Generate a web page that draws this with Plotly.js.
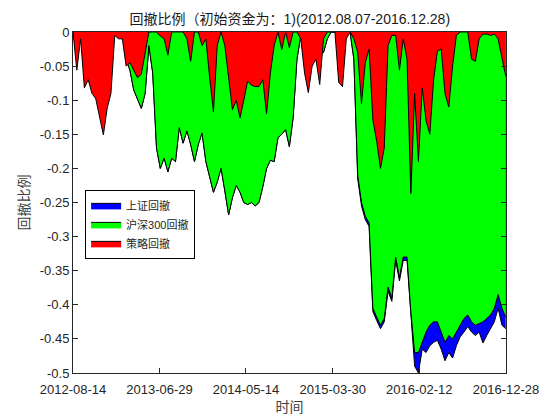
<!DOCTYPE html>
<html>
<head>
<meta charset="utf-8">
<script src="https://cdn.plot.ly/plotly-3.0.1.min.js"></script>
<style>html,body{margin:0;padding:0;background:#fff;}#chart{width:560px;height:420px;}</style>
</head>
<body>
<div id="chart"></div>
<script>
// sampling dates: every 14 days from the first axis date
const startDate = '2012-08-14';
const stepDays = 14;
const nPoints = 115;

const xTickVals = ['2012-08-14','2013-06-29','2014-05-14','2015-03-30','2016-02-12','2016-12-28'];
const xTickText = ['2012-08-14','2013-06-29','2014-05-14','2015-03-30','2016-02-12','2016-12-28'];
const yTickVals = [0,-0.05,-0.1,-0.15,-0.2,-0.25,-0.3,-0.35,-0.4,-0.45,-0.5];
const yTickText = ['0','-0.05','-0.1','-0.15','-0.2','-0.25','-0.3','-0.35','-0.4','-0.45','-0.5'];

// 策略回撤 (strategy drawdown)
const strategy = [
 0,-0.056,-0.01,-0.082,-0.07,-0.09,-0.098,-0.126,-0.151,-0.112,
 -0.09,-0.005,-0.01,-0.01,-0.05,-0.045,-0.055,-0.067,-0.062,-0.028,
 0,0,0,-0.006,-0.01,-0.034,0,0,0,0,
 -0.01,-0.043,0,0,-0.02,-0.01,-0.067,-0.117,-0.02,0,
 -0.02,-0.07,-0.114,-0.1,-0.126,-0.1,-0.072,-0.078,-0.08,-0.08,
 -0.07,-0.12,-0.06,-0.02,0,-0.026,0,-0.023,0,0,
 -0.01,-0.06,-0.089,-0.05,-0.04,-0.077,-0.01,0,0,0,
 -0.074,-0.08,-0.01,0,-0.01,-0.03,-0.105,-0.045,-0.025,-0.129,
 -0.16,-0.2,-0.17,-0.02,-0.005,-0.005,-0.056,-0.01,-0.04,-0.237,
 -0.09,-0.19,-0.082,-0.13,-0.15,-0.07,-0.028,-0.025,-0.09,-0.11,
 -0.05,-0.005,0,0,0,-0.04,-0.043,-0.01,-0.003,-0.003,
 -0.005,-0.003,-0.01,-0.038,-0.065
];

// 沪深300回撤 (CSI 300 drawdown)
const csi300 = [
 0,-0.02,0,-0.03,-0.03,-0.04,-0.04,-0.05,-0.05,-0.05,
 -0.04,0,0,0,-0.04,-0.056,-0.085,-0.1,-0.112,-0.09,
 -0.02,-0.06,-0.17,-0.2,-0.185,-0.205,-0.185,-0.19,-0.14,-0.163,
 -0.145,-0.165,-0.19,-0.165,-0.148,-0.19,-0.212,-0.235,-0.22,-0.2,
 -0.233,-0.268,-0.243,-0.225,-0.235,-0.25,-0.253,-0.25,-0.255,-0.25,
 -0.227,-0.2,-0.188,-0.19,-0.155,-0.15,-0.143,-0.168,-0.125,-0.04,
 -0.005,-0.02,-0.02,-0.02,-0.02,-0.03,-0.03,-0.01,0,0,
 0,0,0,0,-0.04,-0.21,-0.25,-0.27,-0.28,-0.405,
 -0.418,-0.43,-0.42,-0.374,-0.39,-0.33,-0.36,-0.33,-0.33,-0.41,
 -0.47,-0.47,-0.455,-0.44,-0.43,-0.425,-0.425,-0.44,-0.455,-0.445,
 -0.45,-0.44,-0.43,-0.42,-0.415,-0.425,-0.43,-0.428,-0.425,-0.42,
 -0.415,-0.405,-0.385,-0.405,-0.418
];

// 上证回撤 (Shanghai Composite drawdown)
const shanghai = [
 0,-0.02,0,-0.03,-0.03,-0.04,-0.04,-0.05,-0.05,-0.05,
 -0.04,0,0,0,-0.04,-0.056,-0.085,-0.1,-0.112,-0.09,
 -0.02,-0.06,-0.17,-0.2,-0.185,-0.205,-0.185,-0.19,-0.14,-0.163,
 -0.145,-0.165,-0.19,-0.165,-0.148,-0.19,-0.212,-0.235,-0.22,-0.2,
 -0.233,-0.268,-0.243,-0.225,-0.235,-0.25,-0.253,-0.25,-0.255,-0.25,
 -0.227,-0.2,-0.188,-0.19,-0.155,-0.15,-0.143,-0.168,-0.125,-0.04,
 -0.005,-0.02,-0.02,-0.02,-0.02,-0.03,-0.03,-0.01,0,0,
 0,0,0,0,-0.04,-0.215,-0.255,-0.275,-0.285,-0.41,
 -0.423,-0.435,-0.425,-0.38,-0.395,-0.335,-0.365,-0.335,-0.335,-0.415,
 -0.49,-0.5,-0.465,-0.47,-0.46,-0.455,-0.452,-0.465,-0.482,-0.47,
 -0.478,-0.46,-0.447,-0.44,-0.432,-0.44,-0.445,-0.44,-0.456,-0.445,
 -0.435,-0.425,-0.405,-0.43,-0.435
];

const seriesNames = ['上证回撤','沪深300回撤','策略回撤'];
const seriesColors = ['#0000FF','#00FF00','#FF0000'];

function buildDates(start, step, n) {
  const out = [];
  const d0 = new Date(start + 'T00:00:00Z');
  for (let i = 0; i < n; i++) {
    const d = new Date(d0.getTime() + i * step * 86400000);
    out.push(d.toISOString().slice(0, 10));
  }
  return out;
}
const dates = buildDates(startDate, stepDays, nPoints);

const seriesValues = [shanghai, csi300, strategy];
const traces = seriesValues.map((vals, k) => ({
  type: 'scatter',
  mode: 'lines',
  x: dates,
  y: vals,
  name: seriesNames[k],
  fill: 'tozeroy',
  fillcolor: seriesColors[k],
  line: {color: '#000000', width: 1}
}));

const tickFont = {family: '"Liberation Sans", Arial, sans-serif', size: 13, color: '#262626'};
const cjk = '"Liberation Sans", "Noto Sans CJK SC", sans-serif';

const layout = {
  width: 560, height: 420,
  margin: {l: 73, r: 54, t: 32, b: 47},
  paper_bgcolor: '#ffffff',
  plot_bgcolor: '#ffffff',
  showlegend: true,
  title: {
    text: '回撤比例（初始资金为：1)(2012.08.07-2016.12.28)',
    font: {family: cjk, size: 14, color: '#1a1a1a'},
    x: 0.5175, xanchor: 'center', y: 0.955, yanchor: 'middle'
  },
  xaxis: {
    type: 'date',
    range: ['2012-08-14', '2016-12-28'],
    tickmode: 'array', tickvals: xTickVals, ticktext: xTickText,
    ticks: 'inside', ticklen: 5, tickcolor: '#262626',
    ticklabelstandoff: 4,
    showline: true, linecolor: '#262626', linewidth: 1, mirror: true,
    showgrid: false, zeroline: false,
    tickfont: tickFont,
    title: {text: '时间', font: {family: cjk, size: 14, color: '#404040'}, standoff: 6}
  },
  yaxis: {
    range: [-0.5, 0],
    tickmode: 'array', tickvals: yTickVals, ticktext: yTickText,
    ticks: 'inside', ticklen: 5, tickcolor: '#262626',
    showline: true, linecolor: '#262626', linewidth: 1, mirror: 'ticks',
    showgrid: false, zeroline: false,
    tickfont: tickFont,
    title: {text: '回撤比例', font: {family: cjk, size: 14, color: '#404040'}, standoff: 6}
  },
  legend: {
    x: 0.028, y: 0.537, xanchor: 'left', yanchor: 'top',
    bgcolor: '#ffffff', bordercolor: '#000000', borderwidth: 1,
    font: {family: cjk, size: 11, color: '#262626'},
    traceorder: 'normal', tracegroupgap: 0
  }
};

Plotly.newPlot('chart', traces, layout, {staticPlot: true, displayModeBar: false});
</script>
</body>
</html>
